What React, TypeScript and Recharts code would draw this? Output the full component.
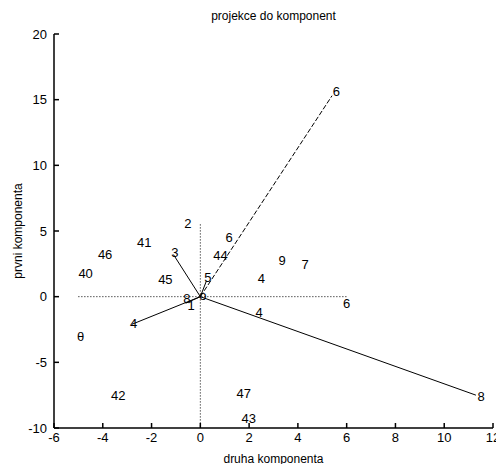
import { ScatterChart, Scatter, XAxis, YAxis } from "recharts";

const xTicks = [-6, -4, -2, 0, 2, 4, 6, 8, 10, 12];
const yTicks = [-10, -5, 0, 5, 10, 15, 20];

// vektory z pocatku (konce)
const vectorX = [5.4, 11.3, -2.8, -1.1, 0.25, -0.6];
const vectorY = [15.3, -7.5, -2.1, 3.2, 1.2, -0.5];

// popisky bodu (levy okraj textu, stred vysky)
const labelText = ["6", "8", "4", "3", "5", "8", "1", "o", "2", "41", "46", "40", "45", "θ", "6", "44", "9", "7", "4", "6", "4", "42", "47", "43"];
const labelX = [5.43, 11.36, -2.88, -1.19, 0.16, -0.7, -0.53, -0.04, -0.66, -2.6, -4.2, -5.0, -1.73, -5.06, 1.03, 0.53, 3.2, 4.15, 2.35, 5.85, 2.26, -3.66, 1.48, 1.69];
const labelY = [15.6, -7.6, -2.05, 3.4, 1.45, -0.15, -0.7, 0.07, 5.55, 4.1, 3.2, 1.75, 1.3, -3.0, 4.5, 3.1, 2.75, 2.45, 1.4, -0.5, -1.2, -7.5, -7.4, -9.3];

// teckovane osy
const hLineX = [-5.0, 6.0];
const vLineY = [5.5, -10];

const font = "'Liberation Sans', Arial, sans-serif";

const labels = labelText.map((t, i) => ({ x: labelX[i], y: labelY[i], label: t }));
const vectors = vectorX.map((vx, i) => [
  { x: 0, y: 0 },
  { x: vx, y: vectorY[i] },
]);
const hLine = hLineX.map((x) => ({ x, y: 0 }));
const vLine = vLineY.map((y) => ({ x: 0, y }));

const NoShape = () => <g />;

const TextMark = (props: any) => (
  <text
    x={props.cx}
    y={props.cy}
    dominantBaseline="central"
    fontSize={13}
    fontFamily={font}
    fill="#000"
  >
    {props.payload.label}
  </text>
);

const tickStyle = { fill: "#000", fontSize: 13, fontFamily: font };
const axisStroke = { stroke: "#000", strokeWidth: 1.5 };

export default function App() {
  return (
    <div style={{ position: "relative", width: 496, height: 456, fontFamily: font }}>
      <ScatterChart width={496} height={456} margin={{ top: 26, right: 11, bottom: 0, left: 6 }}>
        <XAxis
          dataKey="x"
          type="number"
          domain={[-6, 12]}
          ticks={xTicks}
          allowDataOverflow
          height={36}
          tickSize={-5}
          tickMargin={10}
          tick={tickStyle}
          axisLine={axisStroke}
          tickLine={axisStroke}
        />
        <XAxis
          xAxisId="top"
          orientation="top"
          type="number"
          domain={[-6, 12]}
          ticks={xTicks}
          height={0}
          tickSize={-5}
          tickFormatter={() => ""}
          axisLine={axisStroke}
          tickLine={axisStroke}
        />
        <YAxis
          dataKey="y"
          type="number"
          domain={[-10, 20]}
          ticks={yTicks}
          allowDataOverflow
          width={40}
          tickSize={-5}
          tickMargin={12}
          tick={tickStyle}
          axisLine={axisStroke}
          tickLine={axisStroke}
        />
        <YAxis
          yAxisId="right"
          orientation="right"
          type="number"
          domain={[-10, 20]}
          ticks={yTicks}
          width={0}
          tickSize={-5}
          tickFormatter={() => ""}
          axisLine={axisStroke}
          tickLine={axisStroke}
        />
        <Scatter
          data={hLine}
          line={{ stroke: "#000", strokeWidth: 1, strokeDasharray: "1 2" }}
          shape={NoShape}
          isAnimationActive={false}
        />
        <Scatter
          data={vLine}
          line={{ stroke: "#000", strokeWidth: 1, strokeDasharray: "1 2" }}
          shape={NoShape}
          isAnimationActive={false}
        />
        {vectors.map((v, i) => (
          <Scatter
            key={i}
            data={v}
            line={{ stroke: "#000", strokeWidth: 1, strokeDasharray: i === 0 ? "5 2" : undefined }}
            shape={NoShape}
            isAnimationActive={false}
          />
        ))}
        <Scatter data={labels} shape={TextMark} isAnimationActive={false} />
      </ScatterChart>
      <div
        style={{
          position: "absolute",
          left: 46,
          width: 439,
          top: 1,
          textAlign: "center",
          fontSize: 12,
          lineHeight: "14px",
        }}
      >
        projekce do komponent
      </div>
      <div
        style={{
          position: "absolute",
          left: 46,
          width: 439,
          top: 444,
          textAlign: "center",
          fontSize: 12,
          lineHeight: "14px",
        }}
      >
        druha komponenta
      </div>
      <div
        style={{
          position: "absolute",
          left: 10,
          top: 223,
          transform: "translate(-50%, -50%) rotate(-90deg)",
          whiteSpace: "nowrap",
          fontSize: 12,
          lineHeight: "14px",
        }}
      >
        prvni komponenta
      </div>
    </div>
  );
}
